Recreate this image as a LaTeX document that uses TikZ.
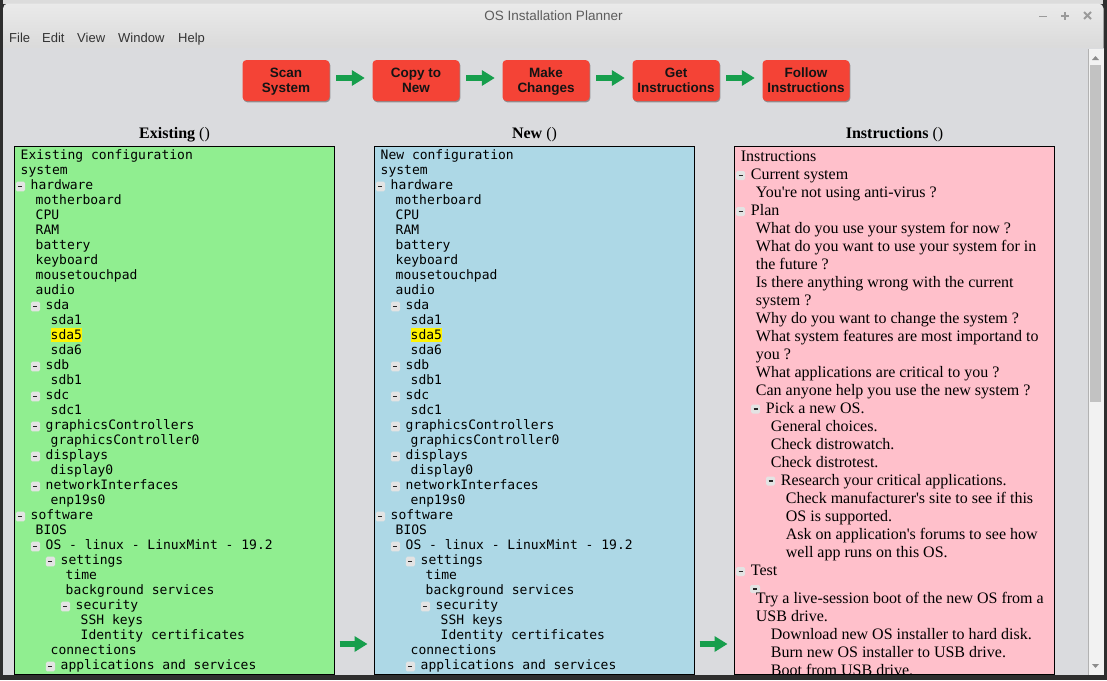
\documentclass[tikz,border=0pt]{standalone}
\usepackage{fontspec}
\setmainfont{Liberation Serif}[Ligatures=TeXOff]
\setsansfont{Liberation Sans}
\setmonofont{DejaVu Sans Mono}
\usetikzlibrary{arrows.meta,shadows,calc}
\definecolor{darkframe}{HTML}{2E2E2E}
\definecolor{topstrip}{HTML}{DCDCDC}
\definecolor{contentbg}{HTML}{DADBDE}
\definecolor{barTop}{HTML}{EAEAEA}
\definecolor{barBot}{HTML}{D6D6D6}
\definecolor{btnred}{HTML}{F44336}
\definecolor{arrowgreen}{RGB}{22,158,76}
\definecolor{pgreen}{HTML}{90EE90}
\definecolor{pblue}{HTML}{ADD8E6}
\definecolor{ppink}{HTML}{FFC0CB}
\definecolor{boxgray}{HTML}{E3E3E3}
\definecolor{menutext}{HTML}{333333}
\definecolor{titletext}{HTML}{5C5C5C}
\definecolor{ctrlgray}{HTML}{9A9A9A}
\definecolor{track}{HTML}{F2F2F2}
\definecolor{thumb}{HTML}{C2C2C2}
\tikzset{
  mono/.style={font=\ttfamily\fontsize{13}{15}\selectfont, anchor=base west, inner sep=0pt, text=black},
  serif/.style={font=\rmfamily\fontsize{16}{18}\selectfont, anchor=base west, inner sep=0pt, text=black},
  head/.style={font=\rmfamily\fontsize{16}{18}\selectfont, anchor=base, inner sep=0pt, text=black},
  menu/.style={font=\sffamily\fontsize{13}{15}\selectfont, anchor=base west, inner sep=0pt, text=menutext},
  mbox/.style={fill=boxgray, rounded corners=1.5pt, minimum width=9.3pt, minimum height=9.6pt, inner sep=0pt,
    path picture={\draw[line width=1.2pt, draw=black!85] ($(path picture bounding box.center)+(-2,0)$) -- ++(4,0);}},
  ibox/.style={fill=boxgray, rounded corners=1.5pt, minimum width=9pt, minimum height=9pt, inner sep=0pt,
    path picture={\draw[line width=1.1pt, draw=black!85] ($(path picture bounding box.center)+(-2,0)$) -- ++(4,0);}},
  btn/.style={fill=btnred, rounded corners=4pt, minimum width=87pt, minimum height=41pt, inner sep=0pt,
    drop shadow={shadow xshift=0.8pt, shadow yshift=-1.3pt, fill=black, opacity=0.35}},
  btntext/.style={inner sep=0pt, anchor=base, font=\sffamily\bfseries\fontsize{13.5}{15}\selectfont, text=black!92},
  garrow/.style={draw=arrowgreen, line width=6pt, -{Triangle[length=13pt 0 0, width=15pt 0 0]}},
  panel/.style={draw=black, line width=1pt, minimum width=320pt, minimum height=528pt, inner sep=0pt},
  ctrl/.style={draw=ctrlgray, line width=1.8pt}
}
\newcommand\cfgtree[3]{%
  \node[mono] (#1t0) at (#2+20.5,159) {#3};
  \foreach \d/\k/\s [count=\i] in {%
    0/0/system, 0/1/hardware, 1/0/motherboard, 1/0/CPU, 1/0/RAM, 1/0/battery,
    1/0/keyboard, 1/0/mousetouchpad, 1/0/audio, 1/1/sda, 2/0/sda1, 2/2/sda5,
    2/0/sda6, 1/1/sdb, 2/0/sdb1, 1/1/sdc, 2/0/sdc1, 1/1/graphicsControllers,
    2/0/graphicsController0, 1/1/displays, 2/0/display0, 1/1/networkInterfaces,
    2/0/enp19s0, 0/1/software, 1/0/BIOS, 1/1/OS - linux - LinuxMint - 19.2,
    2/1/settings, 3/0/time, 3/0/background services, 3/1/security, 4/0/SSH keys,
    4/0/Identity certificates, 2/0/connections, 2/1/applications and services}{%
    \pgfmathsetmacro\yb{159+15*\i}%
    \ifcase\k\relax
      \node[mono] (#1t\i) at ({#2+20.5+15*\d},\yb) {\s};
    \or
      \node[mbox] (#1b\i) at ({#2+20.45+15*\d},\yb-2.5) {};
      \node[mono] (#1t\i) at ({#2+30.5+15*\d},\yb) {\s};
    \or
      \node[mono, fill=yellow, text height=10.7pt, text depth=2.7pt] (#1t\i) at ({#2+20.5+15*\d},\yb) {\s};
    \fi
  }%
}
\begin{document}
\begin{tikzpicture}[x=1pt,y=-1pt]
\useasboundingbox (0,0) rectangle (1107,680);
% surroundings
\fill[darkframe] (0,0) rectangle (1107,680);
\fill[topstrip] (0,0) rectangle (1103,3.5);
% window
\shade[top color=barTop, bottom color=barBot, rounded corners=5pt] (3,3.5) rectangle (1103.5,60);
\fill[contentbg] (3,48) rectangle (1103.5,675);
% title and controls
\node[font=\sffamily\fontsize{13.5}{16}\selectfont, text=titletext, anchor=base, inner sep=0pt] (title) at (553.5,20) {OS Installation Planner};
\draw[ctrl] (1039,16.5) -- (1047,16.5);
\draw[ctrl] (1061,16) -- (1069,16) (1065,12) -- (1065,20);
\draw[ctrl] (1084,12) -- (1091,19) (1084,19) -- (1091,12);
% menu
\node[menu] (mfile) at (9,42) {File};
\node[menu] (medit) at (42,42) {Edit};
\node[menu] (mview) at (77,42) {View};
\node[menu] (mwin) at (118,42) {Window};
\node[menu] (mhelp) at (178,42) {Help};
% scrollbar
\fill[track] (1088,49) rectangle (1103.5,675);
\draw[black!30, line width=0.6pt] (1088.3,49) -- (1088.3,675);
\fill[thumb] (1090,65) rectangle (1101,402);
\fill[black!45] (1092,60) -- (1099,60) -- (1095.5,56) -- cycle;
\fill[black!45] (1092,664) -- (1099,664) -- (1095.5,668) -- cycle;
% buttons
\foreach \n/\cx/\la/\lb in {b1/286/Scan/System, b2/416/Copy to/New, b3/546/Make/Changes,
    b4/676/Get/Instructions, b5/806/Follow/Instructions}{%
  \node[btn] (\n) at (\cx,80.5) {};
  \node[btntext] (\n a) at (\cx,77.7) {\la};
  \node[btntext] (\n b) at (\cx,92.7) {\lb};
}
\foreach \a/\b in {b1/b2, b2/b3, b3/b4, b4/b5}
  \draw[garrow] ($(\a.east)+(6.5,-2.5)$) -- ($(\b.west)+(-7.5,-2.5)$);
% headings
\node[head] (he) at (174.5,138) {\textbf{Existing} ()};
\node[head] (hn) at (534.5,138) {\textbf{New} ()};
\node[head] (hi) at (894.5,138) {\textbf{Instructions} ()};
% panels
\node[panel, fill=pgreen] (pe) at (174.5,410.5) {};
\node[panel, fill=pblue] (pn) at (534.5,410.5) {};
\node[panel, fill=ppink] (pi) at (894.5,410.5) {};
% trees
\cfgtree{e}{0}{Existing configuration}
\cfgtree{n}{360}{New configuration}
% instructions
\foreach \yb/\k/\d/\s [count=\i] in {%
  161.5/0/0/Instructions,
  179.5/1/0/Current system,
  197.5/0/1/You're not using anti-virus ?,
  215.5/1/0/Plan,
  233.5/0/1/What do you use your system for now ?,
  251.5/0/1/What do you want to use your system for in,
  269.5/0/1/the future ?,
  287.5/0/1/Is there anything wrong with the current,
  305.5/0/1/system ?,
  323.5/0/1/Why do you want to change the system ?,
  341.5/0/1/What system features are most importand to,
  359.5/0/1/you ?,
  377.5/0/1/What applications are critical to you ?,
  395.5/0/1/Can anyone help you use the new system ?,
  413/1/1/Pick a new OS.,
  431/0/2/General choices.,
  449/0/2/Check distrowatch.,
  467/0/2/Check distrotest.,
  485/1/2/Research your critical applications.,
  503/0/3/Check manufacturer's site to see if this,
  521/0/3/OS is supported.,
  539/0/3/Ask on application's forums to see how,
  557/0/3/well app runs on this OS.,
  575.5/1/0/Test,
  603.3/2/1/Try a live-session boot of the new OS from a,
  621.3/0/1/USB drive.,
  639.3/0/2/Download new OS installer to hard disk.,
  657.3/0/2/Burn new OS installer to USB drive.,
  675.3/0/2/Boot from USB drive.}{%
  \ifcase\k\relax
    \node[serif] (it\i) at ({740.7+15*\d},\yb) {\s};
  \or
    \node[ibox] (ib\i) at ({740.5+15*\d},\yb-4) {};
    \node[serif] (it\i) at ({750.7+15*\d},\yb) {\s};
  \or
    \node[ibox, minimum width=10pt, minimum height=8pt] (ib\i) at (755,589) {};
    \node[serif] (it\i) at (755.7,\yb) {\s};
  \fi
}
% arrows between panels
\coordinate (arow) at (0,644);
\draw[garrow] ($(pe.east |- arow)+(4.5,0)$) -- ($(pn.west |- arow)+(-6.5,0)$);
\draw[garrow] ($(pn.east |- arow)+(4.5,0)$) -- ($(pi.west |- arow)+(-6.5,0)$);
% bottom frame
\fill[darkframe] (0,675) rectangle (1107,680);
\fill[darkframe] (0,0) rectangle (3,680);
\fill[darkframe] (1103.5,0) rectangle (1107,680);
\end{tikzpicture}
\end{document}
